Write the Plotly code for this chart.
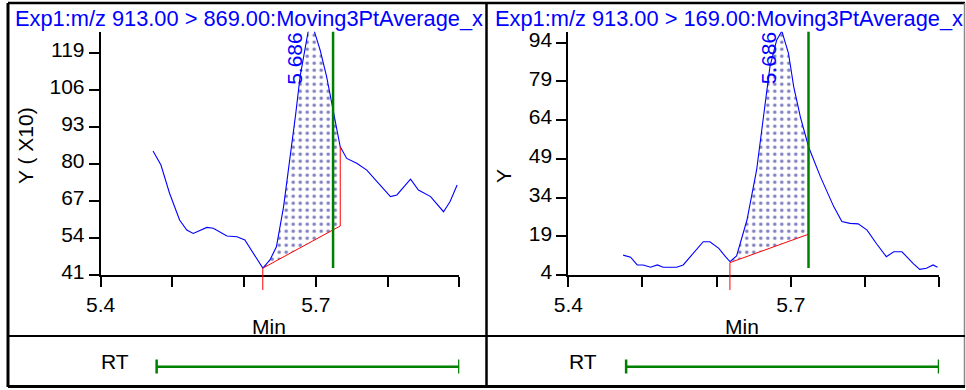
import numpy as np
import plotly.graph_objects as go

# chromatogram 1: m/z 913 > 869 (values shown in units of x10)
left_title = "Exp1:m/z 913.00 > 869.00:Moving3PtAverage_x"
left_t = [5.473, 5.484, 5.496, 5.510, 5.520, 5.529, 5.548, 5.557, 5.576, 5.590,
          5.601, 5.613, 5.626, 5.636, 5.645, 5.655, 5.664, 5.672, 5.678, 5.685,
          5.690, 5.696, 5.706, 5.715, 5.724, 5.734, 5.743, 5.757, 5.771, 5.785,
          5.804, 5.813, 5.832, 5.843, 5.860, 5.878, 5.887, 5.897]
left_y = [84.5, 79.6, 69.7, 60.3, 56.8, 55.6, 57.7, 57.4, 54.7, 54.4,
          53.3, 48.6, 43.4, 46.3, 50.9, 65.0, 81.4, 97.7, 110.6, 121.1,
          127.5, 128.0, 119.9, 110.6, 98.9, 86.0, 81.9, 80.2, 77.8, 73.7,
          68.5, 69.1, 74.6, 70.8, 68.5, 63.2, 66.7, 72.6]
left_yticks = [41, 54, 67, 80, 93, 106, 119]
left_yrange = [41, 126.37]
left_base_t = [5.626, 5.734]
left_base_y = [43.4, 58.2]

# chromatogram 2: m/z 913 > 169
right_title = "Exp1:m/z 913.00 > 169.00:Moving3PtAverage_x"
right_t = [5.474, 5.484, 5.493, 5.501, 5.511, 5.520, 5.528, 5.546, 5.555, 5.569,
           5.582, 5.591, 5.603, 5.612, 5.618, 5.627, 5.641, 5.654, 5.665, 5.672,
           5.681, 5.688, 5.697, 5.704, 5.713, 5.724, 5.740, 5.758, 5.769, 5.780,
           5.791, 5.803, 5.816, 5.829, 5.839, 5.850, 5.865, 5.874, 5.883, 5.892, 5.898]
right_y = [11.7, 10.9, 7.9, 7.9, 7.0, 7.9, 7.0, 7.0, 7.9, 12.4,
           16.9, 16.9, 14.3, 11.1, 9.2, 11.4, 25.3, 44.7, 70.5, 84.7,
           95.0, 98.5, 89.9, 77.0, 65.3, 53.7, 42.1, 30.5, 24.7, 24.0,
           23.8, 21.4, 16.0, 11.1, 13.0, 13.0, 8.5, 6.2, 6.6, 7.9, 7.0]
right_yticks = [4, 19, 34, 49, 64, 79, 94]
right_yrange = [4, 98.26]
right_base_t = [5.618, 5.724]
right_base_y = [8.8, 19.8]

# shared
x_range = [5.4, 5.9]
x_tickvals = [5.4, 5.5, 5.6, 5.7, 5.8, 5.9]
x_ticktext = ["5.4", "", "", "5.7", "", ""]
apex_rt = 5.686
expected_rt = 5.724
rt_window = [5.478, 5.9]

W, H = 966, 390
FONT = "Liberation Sans, Arial, sans-serif"


def px(x):
    return x / W


def py(y):
    return 1 - y / H


fig = go.Figure()
shapes = []
annotations = []

panels = [
    dict(t=left_t, y=left_y, base_t=left_base_t, base_y=left_base_y, yr=left_yrange,
         yticks=left_yticks, title=left_title, ytitle="Y ( X10)", xs="x", ys="y",
         x0=100.7, x1=459.3, title_x=13, ytitle_x=25, ytitle_y=146, min_x=269, rt_x=115),
    dict(t=right_t, y=right_y, base_t=right_base_t, base_y=right_base_y, yr=right_yrange,
         yticks=right_yticks, title=right_title, ytitle="Y", xs="x2", ys="y2",
         x0=568.3, x1=939.0, title_x=493, ytitle_x=504, ytitle_y=176, min_x=742, rt_x=583),
]

for i, p in enumerate(panels):
    t = np.array(p["t"])
    y = np.array(p["y"])
    bt, by = p["base_t"], p["base_y"]
    sel = (t >= bt[0] - 1e-9) & (t <= bt[1] + 1e-9)
    end_val = y[np.argmin(np.abs(t - bt[1]))]

    # integrated area (dotted)
    poly_t = list(t[sel]) + [bt[1], bt[0]]
    poly_y = list(y[sel]) + [by[1], by[0]]
    fig.add_trace(go.Scatter(
        x=poly_t, y=poly_y, mode="lines", fill="toself", line=dict(width=0),
        fillcolor="rgba(0,0,0,0)",
        fillpattern=dict(shape=".", fgcolor="#000080", bgcolor="white", size=7, solidity=0.2),
        xaxis=p["xs"], yaxis=p["ys"], hoverinfo="skip", showlegend=False))

    # chromatogram trace
    fig.add_trace(go.Scatter(
        x=t, y=y, mode="lines", line=dict(color="#0000ff", width=1.1),
        xaxis=p["xs"], yaxis=p["ys"], showlegend=False))

    # baseline + drop line
    fig.add_trace(go.Scatter(
        x=[bt[0], bt[1], bt[1]], y=[by[0], by[1], end_val], mode="lines",
        line=dict(color="#ff0000", width=1),
        xaxis=p["xs"], yaxis=p["ys"], showlegend=False))

    yspan = p["yr"][1] - p["yr"][0]
    dom_h = 275 - 31.7
    # start tick dropping below the axis
    shapes.append(dict(type="line", xref=p["xs"], yref=p["ys"] + " domain",
                       x0=bt[0], x1=bt[0], y0=-15 / dom_h, y1=(by[0] - p["yr"][0]) / yspan,
                       line=dict(color="#ff0000", width=1)))
    # expected RT marker
    shapes.append(dict(type="line", xref=p["xs"], yref=p["ys"] + " domain",
                       x0=expected_rt, x1=expected_rt, y0=7 / dom_h, y1=1,
                       line=dict(color="#008000", width=2.5)))
    # RT window bar
    rt_y = py(366.7)
    shapes.append(dict(type="line", xref=p["xs"], yref="paper", x0=rt_window[0], x1=rt_window[1],
                       y0=rt_y, y1=rt_y, line=dict(color="#008000", width=2.5)))
    for xe in rt_window:
        shapes.append(dict(type="line", xref=p["xs"], yref="paper", x0=xe, x1=xe,
                           y0=py(373.5), y1=py(359.5), line=dict(color="#008000", width=2.5)))

    sfx = "" if i == 0 else "2"
    fig.update_layout({
        "xaxis" + sfx: dict(domain=[px(p["x0"]), px(p["x1"])], range=x_range, anchor=p["ys"],
                            tickvals=x_tickvals, ticktext=x_ticktext),
        "yaxis" + sfx: dict(domain=[py(275), py(31.7)], range=p["yr"], anchor=p["xs"],
                            tickvals=p["yticks"], ticklabelshift=-3),
    })

    annotations += [
        dict(text=p["title"], x=px(p["title_x"]), y=py(18.5), xanchor="left", yanchor="middle",
             font=dict(color="#0000ff", size=21.8)),
        dict(text=p["ytitle"], x=px(p["ytitle_x"]), y=py(p["ytitle_y"]), textangle=-90,
             xanchor="center", yanchor="middle", font=dict(size=21)),
        dict(text="Min", x=px(p["min_x"]), y=py(326), xanchor="center", yanchor="middle",
             font=dict(size=21)),
        dict(text="RT", x=px(p["rt_x"]), y=py(361.5), xanchor="center", yanchor="middle",
             font=dict(size=21)),
        dict(text=f"{apex_rt:.3f}", xref=p["xs"], x=apex_rt, xshift=-12, y=py(58), textangle=-90,
             xanchor="center", yanchor="middle", font=dict(color="#0000ff", size=21)),
    ]

axis_style = dict(showline=True, linecolor="black", linewidth=2, ticks="outside", ticklen=10,
                  tickwidth=2, tickcolor="black", showgrid=False, zeroline=False, automargin=False,
                  tickfont=dict(size=21, color="black"), fixedrange=True)
fig.update_xaxes(**axis_style, ticklabelstandoff=0)
fig.update_yaxes(**axis_style)

for a in annotations:
    a.setdefault("xref", "paper")
    a["yref"] = "paper"
    a["showarrow"] = False

# panel frame
frame = [
    (8, 3, 8, 387, "black", 3),
    (8, 3, 965, 3, "black", 2.5),
    (486.5, 3, 486.5, 387, "black", 2.5),
    (964.5, 3, 964.5, 387, "#888888", 1.5),
    (8, 336, 965, 336, "black", 2),
    (8, 386.5, 965, 386.5, "black", 3),
]
for x0, y0, x1, y1, c, w in frame:
    shapes.append(dict(type="line", xref="paper", yref="paper", x0=px(x0), y0=py(y0),
                       x1=px(x1), y1=py(y1), line=dict(color=c, width=w)))

fig.update_layout(
    width=W, height=H, margin=dict(l=0, r=0, t=0, b=0, pad=0, autoexpand=False),
    paper_bgcolor="white", plot_bgcolor="white",
    font=dict(family=FONT, size=21, color="black"),
    shapes=shapes, annotations=annotations, showlegend=False,
)

# page body has a default 8px margin; drop it so the figure sits at the window origin
fig.write_html("out.html", config={"displayModeBar": False},
               post_script="document.body.style.margin='0';document.body.style.overflow='hidden';")
